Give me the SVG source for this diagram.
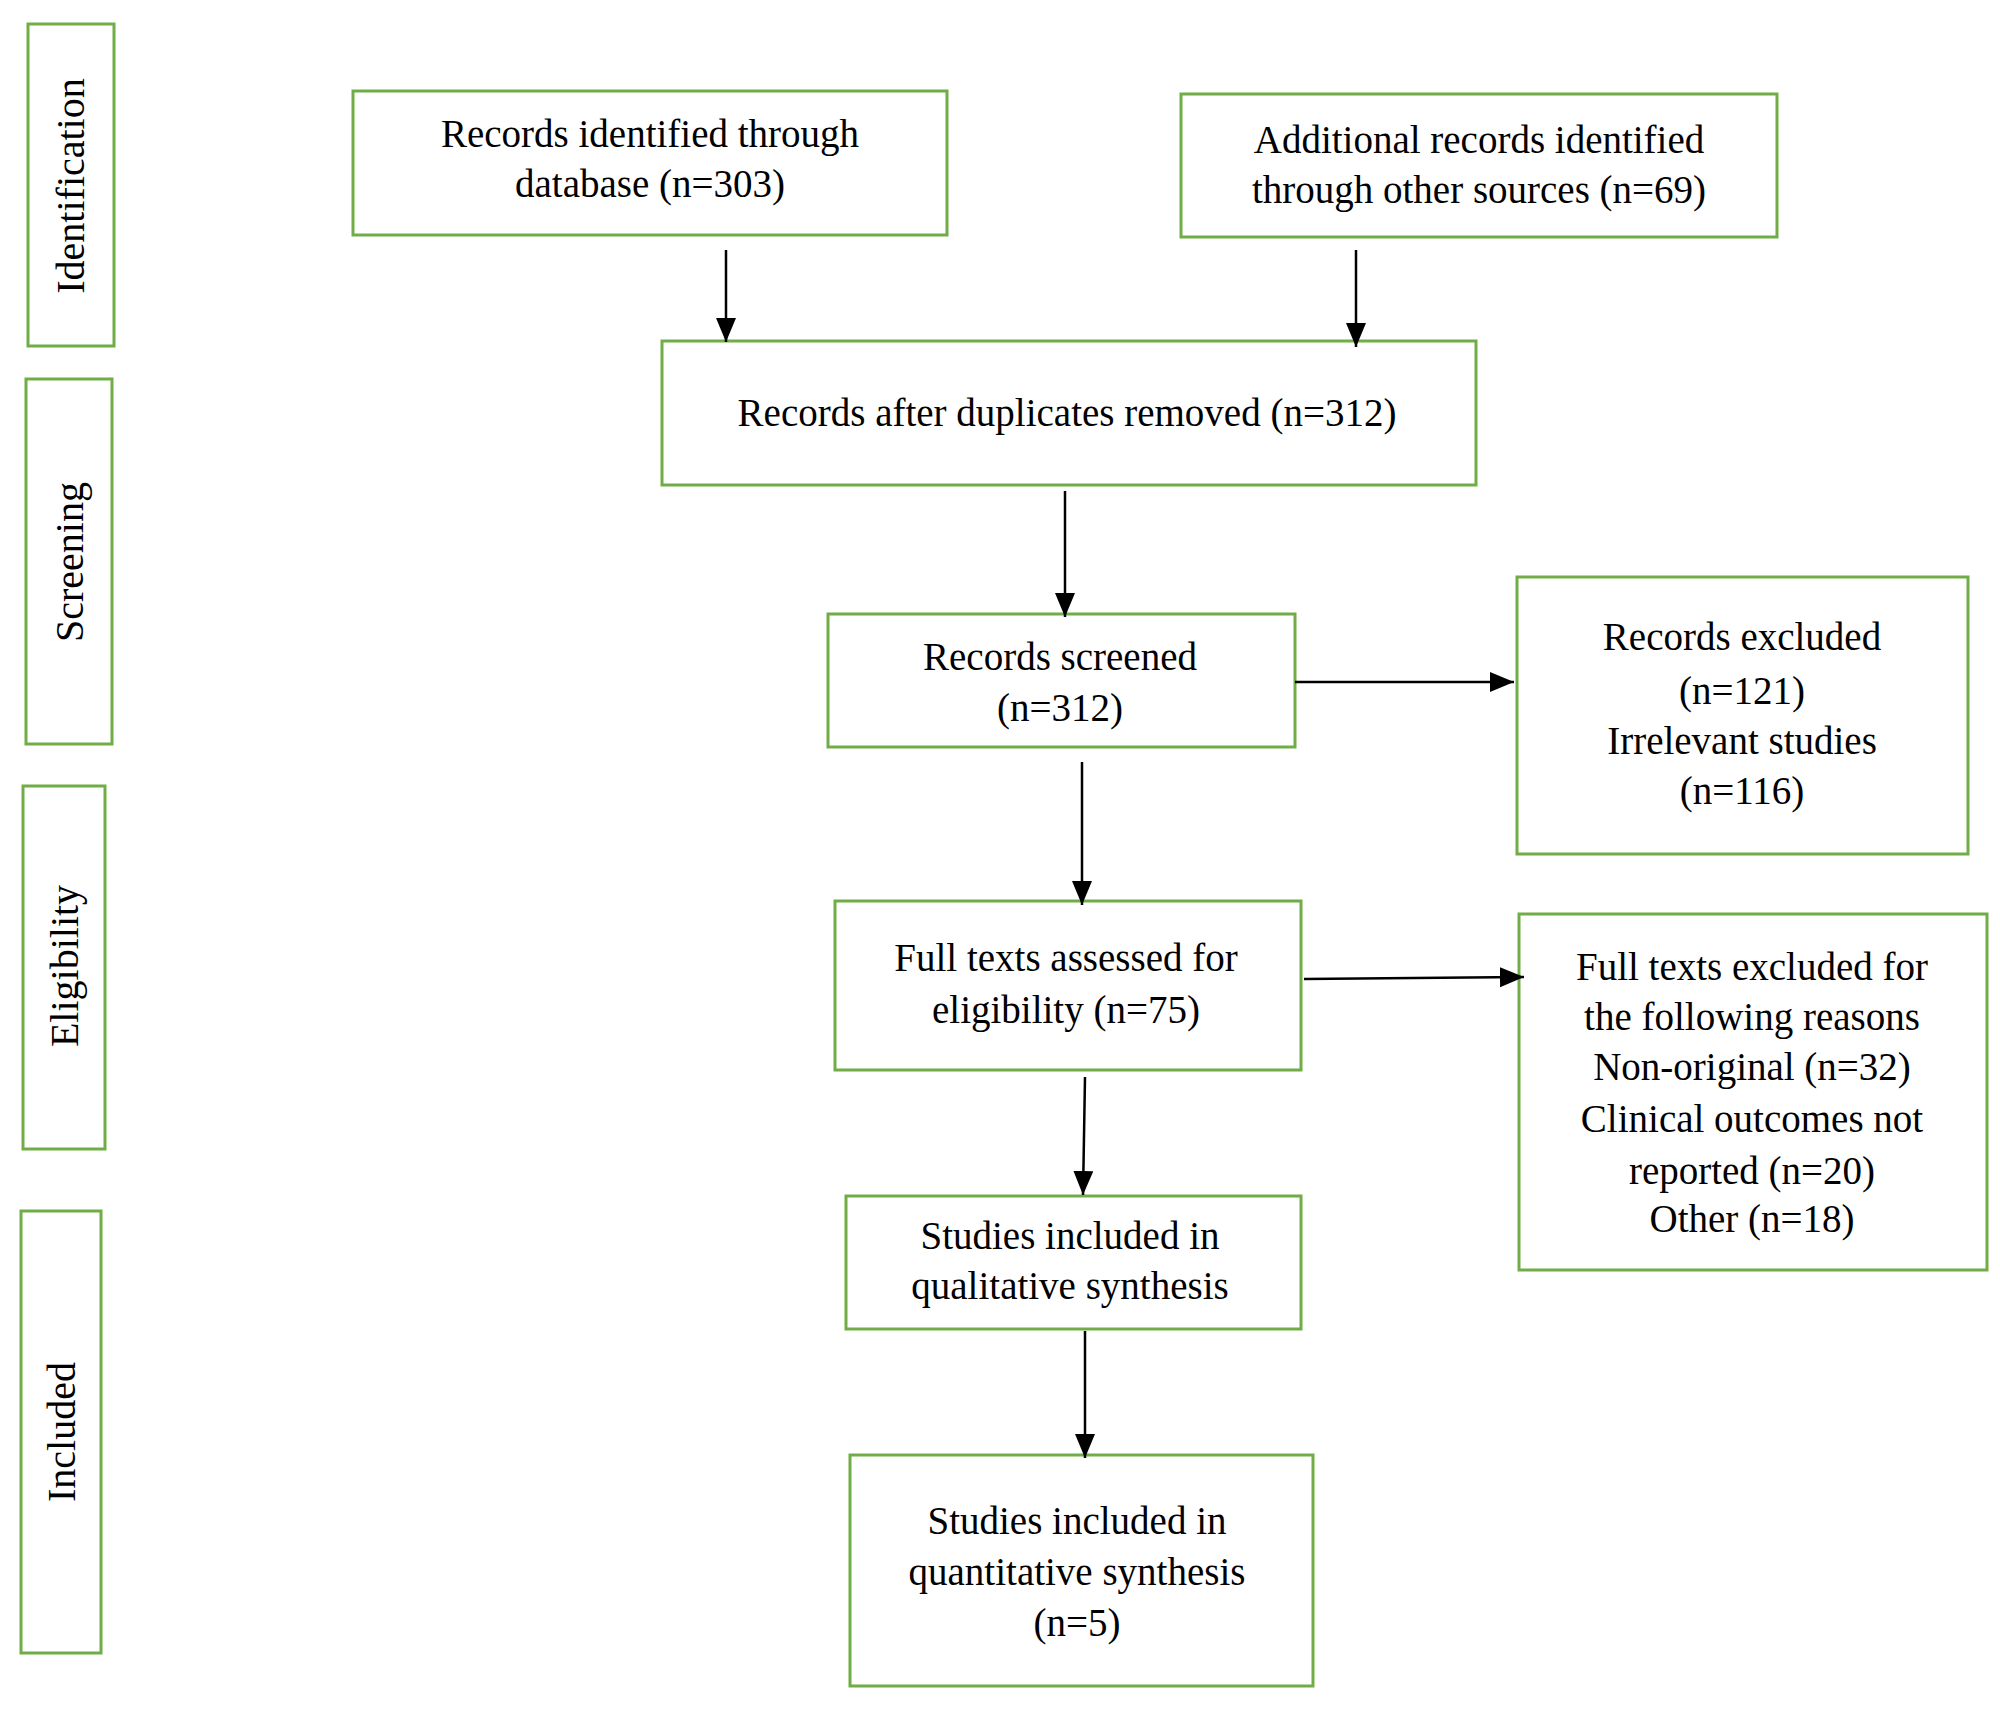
<svg xmlns="http://www.w3.org/2000/svg" width="2000" height="1732" viewBox="0 0 2000 1732">
<defs>
<marker id="ah" markerWidth="10" markerHeight="10" refX="9" refY="5" orient="auto" markerUnits="userSpaceOnUse" viewBox="0 0 10 10"><path d="M0,0 L10,5 L0,10 z" fill="#000"/></marker>
<style>
rect{fill:#fff;stroke:#70ad47;stroke-width:3}
text{font-family:"Liberation Serif","Times New Roman",serif;font-size:39px;fill:#000;text-anchor:middle}
.side{font-size:40px}
line{stroke:#000;stroke-width:2.5;marker-end:url(#ah)}
</style>
<marker id="a2" markerWidth="26" markerHeight="26" refX="24" refY="10" orient="auto" markerUnits="userSpaceOnUse"><path d="M0,0 L24,10 L0,20 z" fill="#000"/></marker>
</defs>
<rect x="0" y="0" width="2000" height="1732" style="fill:#fff;stroke:none"/>
<g id="side-identification"><rect x="28" y="24" width="86" height="322"/><text class="side" transform="translate(84,186) rotate(-90)">Identification</text></g>
<g id="side-screening"><rect x="26" y="379" width="86" height="365"/><text class="side" transform="translate(83,562) rotate(-90)">Screening</text></g>
<g id="side-eligibility"><rect x="23" y="786" width="82" height="363"/><text class="side" transform="translate(78,966) rotate(-90)">Eligibility</text></g>
<g id="side-included"><rect x="21" y="1211" width="80" height="442"/><text class="side" transform="translate(75,1432) rotate(-90)">Included</text></g>
<g id="n1"><rect x="353" y="91" width="594" height="144"/><text x="650" y="147">Records identified through</text><text x="650" y="197">database (n=303)</text></g>
<g id="n2"><rect x="1181" y="94" width="596" height="143"/><text x="1479" y="153">Additional records identified</text><text x="1479" y="203">through other sources (n=69)</text></g>
<g id="n3"><rect x="662" y="341" width="814" height="144"/><text x="1067" y="426">Records after duplicates removed (n=312)</text></g>
<g id="n4"><rect x="828" y="614" width="467" height="133"/><text x="1060" y="670">Records screened</text><text x="1060" y="721">(n=312)</text></g>
<g id="n5"><rect x="1517" y="577" width="451" height="277"/><text x="1742" y="650">Records excluded</text><text x="1742" y="704">(n=121)</text><text x="1742" y="754">Irrelevant studies</text><text x="1742" y="804">(n=116)</text></g>
<g id="n6"><rect x="835" y="901" width="466" height="169"/><text x="1066" y="971">Full texts assessed for</text><text x="1066" y="1023">eligibility (n=75)</text></g>
<g id="n7"><rect x="1519" y="914" width="468" height="356"/><text x="1752" y="980">Full texts excluded for</text><text x="1752" y="1030">the following reasons</text><text x="1752" y="1080">Non-original (n=32)</text><text x="1752" y="1132">Clinical outcomes not</text><text x="1752" y="1184">reported (n=20)</text><text x="1752" y="1232">Other (n=18)</text></g>
<g id="n8"><rect x="846" y="1196" width="455" height="133"/><text x="1070" y="1249">Studies included in</text><text x="1070" y="1299">qualitative synthesis</text></g>
<g id="n9"><rect x="850" y="1455" width="463" height="231"/><text x="1077" y="1534">Studies included in</text><text x="1077" y="1585">quantitative synthesis</text><text x="1077" y="1636">(n=5)</text></g>
<g id="connectors" style="marker-end:url(#a2)">
<line x1="726" y1="250" x2="726" y2="342" style="marker-end:url(#a2)"/>
<line x1="1356" y1="250" x2="1356" y2="347" style="marker-end:url(#a2)"/>
<line x1="1065" y1="491" x2="1065" y2="617" style="marker-end:url(#a2)"/>
<line x1="1295" y1="682" x2="1514" y2="682" style="marker-end:url(#a2)"/>
<line x1="1082" y1="762" x2="1082" y2="905" style="marker-end:url(#a2)"/>
<line x1="1304" y1="979" x2="1524" y2="977" style="marker-end:url(#a2)"/>
<line x1="1085" y1="1077" x2="1083" y2="1195" style="marker-end:url(#a2)"/>
<line x1="1085" y1="1331" x2="1085" y2="1458" style="marker-end:url(#a2)"/>
</g>
</svg>
